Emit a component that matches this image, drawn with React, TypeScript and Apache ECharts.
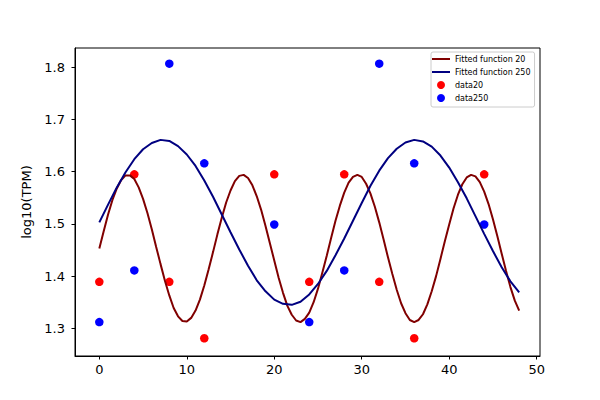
import React, { useEffect, useRef } from "react";
import * as echarts from "echarts";

const fit20X = [0,0.5,1,1.5,2,2.5,3,3.5,4,4.5,5,5.5,6,6.5,7,7.5,8,8.5,9,9.5,10,10.5,11,11.5,12,12.5,13,13.5,14,14.5,15,15.5,16,16.5,17,17.5,18,18.5,19,19.5,20,20.5,21,21.5,22,22.5,23,23.5,24,24.5,25,25.5,26,26.5,27,27.5,28,28.5,29,29.5,30,30.5,31,31.5,32,32.5,33,33.5,34,34.5,35,35.5,36,36.5,37,37.5,38,38.5,39,39.5,40,40.5,41,41.5,42,42.5,43,43.5,44,44.5,45,45.5,46,46.5,47,47.5,48];
const fit20Y = [1.453,1.486,1.518,1.546,1.568,1.584,1.593,1.593,1.586,1.570,1.548,1.521,1.490,1.456,1.423,1.391,1.363,1.339,1.323,1.314,1.313,1.320,1.334,1.355,1.382,1.413,1.446,1.480,1.512,1.541,1.564,1.582,1.592,1.594,1.588,1.574,1.553,1.527,1.496,1.463,1.430,1.397,1.368,1.343,1.326,1.315,1.312,1.318,1.330,1.350,1.376,1.407,1.439,1.473,1.506,1.535,1.560,1.579,1.590,1.594,1.590,1.577,1.558,1.533,1.503,1.470,1.436,1.404,1.374,1.348,1.329,1.316,1.312,1.316,1.327,1.346,1.371,1.400,1.433,1.467,1.499,1.530,1.556,1.576,1.589,1.594,1.591,1.580,1.562,1.538,1.509,1.477,1.443,1.410,1.379,1.353,1.334];

const fit250X = [0,1,2,3,4,5,6,7,8,9,10,11,12,13,14,15,16,17,18,19,20,21,22,23,24,25,26,27,28,29,30,31,32,33,34,35,36,37,38,39,40,41,42,43,44,45,46,47,48];
const fit250Y = [1.503,1.537,1.570,1.599,1.624,1.643,1.655,1.661,1.659,1.649,1.633,1.611,1.583,1.552,1.518,1.484,1.451,1.420,1.392,1.371,1.355,1.347,1.345,1.351,1.365,1.385,1.410,1.440,1.472,1.506,1.540,1.573,1.602,1.626,1.644,1.656,1.661,1.658,1.648,1.631,1.608,1.580,1.549,1.515,1.481,1.448,1.417,1.390,1.369];

const dataX = [0,4,8,12,20,24,28,32,36,44];
const data20 = [1.389,1.595,1.389,1.281,1.595,1.389,1.595,1.389,1.281,1.595];
const data250 = [1.312,1.411,1.807,1.616,1.499,1.312,1.411,1.807,1.616,1.499];

const xTicks = [0,10,20,30,40,50];
const yTicks = [1.3,1.4,1.5,1.6,1.7,1.8];

const seriesNames = ["Fitted function 20","Fitted function 250","data20","data250"];

const FONT = "DejaVu Sans";
const LINE_ICON = "path://M0,0H18V2H0Z";

function zip(xs: number[], ys: number[]) {
  return xs.map((x, i) => [x, ys[i]]);
}

export default function App() {
  const ref = useRef<HTMLDivElement>(null);
  useEffect(() => {
    if (!ref.current) return;
    const chart = echarts.init(ref.current, undefined, { renderer: "svg" });
    chart.setOption({
      animation: false,
      backgroundColor: "#ffffff",
      textStyle: { fontFamily: FONT },
      grid: {
        left: 75, right: 60, top: 48, bottom: 44,
        show: true, borderColor: "#000000", borderWidth: 1, containLabel: false,
      },
      legend: {
        orient: "vertical",
        left: 431,
        top: 52,
        padding: [3, 4, 5, 1],
        itemWidth: 18,
        itemHeight: 8,
        itemGap: 5,
        backgroundColor: "rgba(255,255,255,0.8)",
        borderColor: "#cccccc",
        borderWidth: 1,
        borderRadius: 2,
        textStyle: { fontSize: 8, color: "#000000", fontFamily: FONT },
        data: [
          { name: seriesNames[0], icon: LINE_ICON },
          { name: seriesNames[1], icon: LINE_ICON },
          { name: seriesNames[2], icon: "circle" },
          { name: seriesNames[3], icon: "circle" },
        ],
      },
      xAxis: {
        type: "value",
        min: -2.78,
        max: 50.38,
        splitLine: { show: false },
        axisLine: { show: true, onZero: false, lineStyle: { color: "#000000", width: 1 } },
        axisTick: { show: true, length: 3.5, customValues: xTicks, lineStyle: { color: "#000000" } },
        axisLabel: { customValues: xTicks, color: "#000000", fontSize: 13, margin: 7, fontFamily: FONT },
      },
      yAxis: {
        type: "value",
        min: 1.247,
        max: 1.837,
        name: "log10(TPM)",
        nameLocation: "middle",
        nameGap: 40,
        nameTextStyle: { fontSize: 13, color: "#000000", fontFamily: FONT },
        splitLine: { show: false },
        axisLine: { show: true, onZero: false, lineStyle: { color: "#000000", width: 1 } },
        axisTick: { show: true, length: 3.5, customValues: yTicks, lineStyle: { color: "#000000" } },
        axisLabel: {
          customValues: yTicks, color: "#000000", fontSize: 13, margin: 10, fontFamily: FONT,
          formatter: (v: number) => v.toFixed(1),
        },
      },
      series: [
        {
          name: seriesNames[0],
          type: "line",
          data: zip(fit20X, fit20Y),
          smooth: false,
          symbol: "none",
          showSymbol: false,
          z: 3,
          lineStyle: { color: "#800000", width: 2 },
          itemStyle: { color: "#800000" },
        },
        {
          name: seriesNames[1],
          type: "line",
          data: zip(fit250X, fit250Y),
          smooth: false,
          symbol: "none",
          showSymbol: false,
          z: 3,
          lineStyle: { color: "#000080", width: 2 },
          itemStyle: { color: "#000080" },
        },
        {
          name: seriesNames[2],
          type: "scatter",
          data: zip(dataX, data20),
          symbolSize: 8.5,
          z: 2,
          itemStyle: { color: "#ff0000", opacity: 1 },
        },
        {
          name: seriesNames[3],
          type: "scatter",
          data: zip(dataX, data250),
          symbolSize: 8.5,
          z: 2,
          itemStyle: { color: "#0000ff", opacity: 1 },
        },
      ],
    });
    return () => chart.dispose();
  }, []);
  return (
    <div
      ref={ref}
      style={{ position: "fixed", left: 0, top: 0, width: 600, height: 400 }}
    />
  );
}
